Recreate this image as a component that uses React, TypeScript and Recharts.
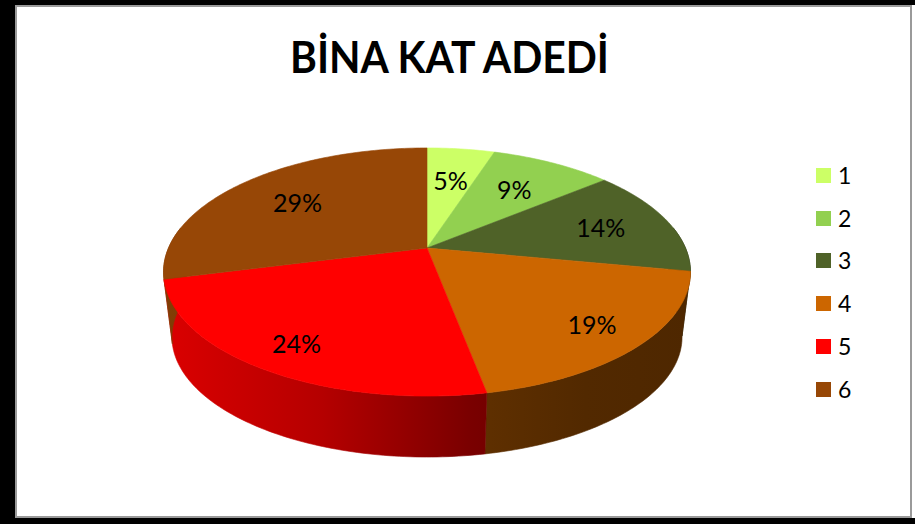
import React from 'react';
import { PieChart, Pie, Legend } from 'recharts';

// ---- data ----
const TITLE = 'BİNA KAT ADEDİ';
const CATEGORIES = ['1', '2', '3', '4', '5', '6'];
const SHARES = [5, 9, 14, 19, 24, 29];

// ---- styles ----
const COLORS = ['#CCFF66', '#92D050', '#4F6228', '#CC6600', '#FF0000', '#974706'];
const FONT = 'Lato, "Open Sans", sans-serif';

const data = CATEGORIES.map((name, i) => ({ name, value: SHARES[i] }));

// 3D projection parameters (tilt / perspective of the pie)
const RATIO = 0.462;
const K = 0.1935;
const DEPTH = 65.7;
const BOTTOM_SCALE = 0.968;
const LABEL_R = 0.74;
const LABEL_R_TILT = 0.09;

const SHADE_STOPS: [number, number][] = [
  [0, 0.86],
  [0.3, 0.71],
  [0.58, 0.48],
  [0.62, 0.46],
  [0.8, 0.4],
  [1, 0.38],
];

function shade(hex: string, f: number) {
  const n = parseInt(hex.slice(1), 16);
  const r = Math.round(((n >> 16) & 255) * f);
  const g = Math.round(((n >> 8) & 255) * f);
  const b = Math.round((n & 255) * f);
  return `rgb(${r},${g},${b})`;
}

function proj(cx: number, cy: number, a: number, theta: number, r: number, bottom: boolean) {
  const u = r * Math.sin(theta);
  const v = -r * Math.cos(theta);
  const den = 1 - K * v;
  const s = bottom ? BOTTOM_SCALE : 1;
  return [cx + (a * s * u) / den, cy + (bottom ? DEPTH : 0) + (a * RATIO * s * v) / den];
}

const toTheta = (deg: number) => ((90 - deg) * Math.PI) / 180;

function arcPoints(cx: number, cy: number, a: number, t1: number, t2: number, bottom: boolean) {
  const steps = Math.max(2, Math.ceil((Math.abs(t2 - t1) * 180) / Math.PI));
  const pts: number[][] = [];
  for (let i = 0; i <= steps; i++) {
    const t = t1 + ((t2 - t1) * i) / steps;
    pts.push(proj(cx, cy, a, t, 1, bottom));
  }
  return pts;
}

const renderSide = (props: any) => {
  const { cx, cy, outerRadius, startAngle, endAngle, index } = props;
  let t1 = toTheta(startAngle);
  let t2 = toTheta(endAngle);
  if (t1 > t2) [t1, t2] = [t2, t1];
  const lo = (80 * Math.PI) / 180;
  const hi = (280 * Math.PI) / 180;
  const a = Math.max(t1, lo);
  const b = Math.min(t2, hi);
  if (b <= a) return <g />;
  const top = arcPoints(cx, cy, outerRadius, a, b, false);
  const bot = arcPoints(cx, cy, outerRadius, b, a, true);
  const d =
    'M' + top.map((p) => `${p[0].toFixed(2)},${p[1].toFixed(2)}`).join('L') +
    'L' + bot.map((p) => `${p[0].toFixed(2)},${p[1].toFixed(2)}`).join('L') + 'Z';
  const id = `side-grad-${index}`;
  const color = COLORS[index % COLORS.length];
  return (
    <g>
      <defs>
        <linearGradient
          id={id}
          gradientUnits="userSpaceOnUse"
          x1={cx - outerRadius * 1.02}
          x2={cx + outerRadius * 1.02}
          y1={0}
          y2={0}
        >
          {SHADE_STOPS.map(([o, f]) => (
            <stop key={o} offset={o} stopColor={shade(color, f)} />
          ))}
        </linearGradient>
      </defs>
      <path d={d} fill={`url(#${id})`} stroke={`url(#${id})`} strokeWidth={0.6} />
    </g>
  );
};

const renderTop = (props: any) => {
  const { cx, cy, outerRadius, startAngle, endAngle, index } = props;
  const t1 = toTheta(startAngle);
  const t2 = toTheta(endAngle);
  const pts = arcPoints(cx, cy, outerRadius, t1, t2, false);
  const [c0, c1] = proj(cx, cy, outerRadius, 0, 0, false);
  const d =
    `M${c0},${c1}L` + pts.map((p) => `${p[0].toFixed(2)},${p[1].toFixed(2)}`).join('L') + 'Z';
  const color = COLORS[index % COLORS.length];
  return (
    <g>
      <path d={d} fill={color} stroke={color} strokeWidth={0.6} strokeLinejoin="round" />
    </g>
  );
};

const renderText = (props: any) => {
  const { cx, cy, outerRadius, midAngle, percent } = props;
  const t = toTheta(midAngle);
  const r = LABEL_R + LABEL_R_TILT * -Math.cos(t);
  const [x, y] = proj(cx, cy, outerRadius, t, r, false);
  return (
    <text
      x={x}
      y={y}
      textAnchor="middle"
      dominantBaseline="central"
      fill="#000"
      fontFamily={FONT}
      fontSize={25}
    >
      {`${Math.round(percent * 100)}%`}
    </text>
  );
};

const LegendContent = () => (
  <div style={{ fontFamily: FONT }}>
    {CATEGORIES.map((c, i) => (
      <div key={c} style={{ display: 'flex', alignItems: 'center', height: 42.8 }}>
        <div style={{ width: 15, height: 15, background: COLORS[i], marginRight: 7 }} />
        <span style={{ fontSize: 23, color: '#000', lineHeight: '23px' }}>{c}</span>
      </div>
    ))}
  </div>
);

export default function App() {
  const pieCommon = {
    data,
    dataKey: 'value',
    nameKey: 'name',
    cx: 422,
    cy: 243,
    outerRadius: 258.5,
    startAngle: 90,
    endAngle: -270,
    fill: 'none',
    stroke: 'none',
    labelLine: false,
    isAnimationActive: false,
  } as const;
  return (
    <div
      style={{
        position: 'absolute',
        left: 0,
        top: 0,
        width: 915,
        height: 524,
        background: '#000',
        overflow: 'hidden',
      }}
    >
      <div
        style={{
          position: 'absolute',
          left: 912,
          top: 5,
          width: 3,
          height: 513,
          background: '#fff',
        }}
      />
      <div
        style={{
          position: 'absolute',
          left: 15,
          top: 5,
          width: 897,
          height: 513,
          background: '#fff',
          border: '2px solid #9a9a9a',
          boxSizing: 'border-box',
        }}
      />
      <div style={{ position: 'absolute', left: 0, top: 0 }}>
        <PieChart width={915} height={524}>
          <Pie {...pieCommon} label={renderSide} />
          <Pie {...pieCommon} label={renderTop} />
          <Pie {...pieCommon} label={renderText} />
          <Legend
            content={LegendContent}
            wrapperStyle={{ position: 'absolute', left: 816, top: 154, width: 70, height: 260 }}
          />
        </PieChart>
      </div>
      <svg
        width={915}
        height={524}
        style={{ position: 'absolute', left: 0, top: 0, pointerEvents: 'none' }}
      >
        <text
          x={449.5}
          y={73}
          textAnchor="middle"
          fontFamily={FONT}
          fontWeight={700}
          fontSize={43}
          fill="#000"
          textLength={319}
          lengthAdjust="spacingAndGlyphs"
        >
          {TITLE}
        </text>
      </svg>
    </div>
  );
}
